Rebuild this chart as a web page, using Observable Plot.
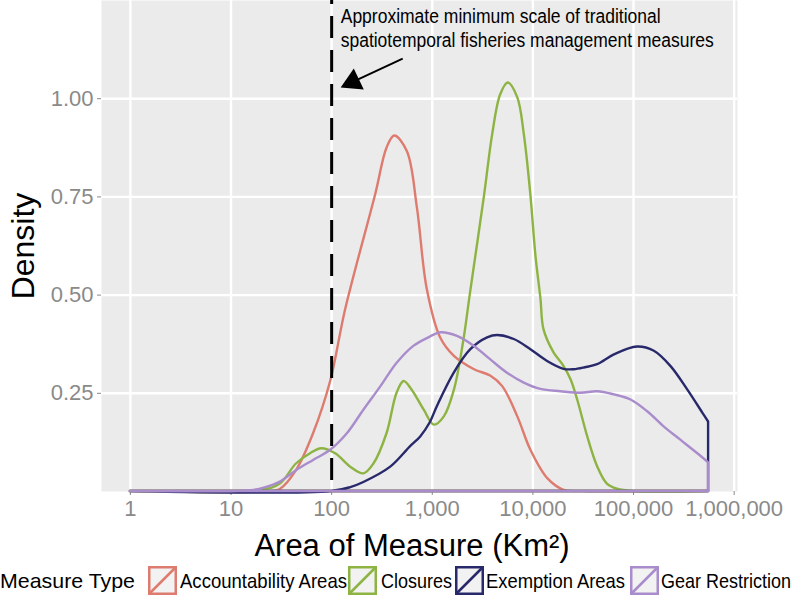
<!DOCTYPE html>
<html><head><meta charset="utf-8">
<script src="https://cdn.jsdelivr.net/npm/d3@7"></script>
<script src="https://cdn.jsdelivr.net/npm/@observablehq/plot@0.6"></script>
<style>
body{margin:0;background:#fff;font-family:"Liberation Sans",Arial,Helvetica,sans-serif;}
#wrap{position:relative;width:793px;height:595px;overflow:hidden;}
#wrap svg{overflow:visible;display:block;}
</style></head><body><div id="wrap"></div>
<script>
// ---- data ----
const categories = ["Accountability Areas", "Closures", "Exemption Areas", "Gear Restriction"];
const colors = ["#DE7B6F", "#8DB443", "#28296B", "#A98CCB"];

// x positions are log10(area, km²), y values are densities
const accLog = [0, 1.4, 1.49, 1.65, 1.82, 1.99, 2.14, 2.44, 2.55, 2.627, 2.753, 2.853, 2.95, 3.085, 3.22, 3.42, 3.58, 3.70, 3.85, 3.98, 4.15, 4.31, 4.5, 5.746];
const accDensity = [0, 0, 0.005, 0.053, 0.147, 0.28, 0.464, 0.758, 0.874, 0.905, 0.865, 0.72, 0.515, 0.39, 0.344, 0.31, 0.294, 0.267, 0.19, 0.105, 0.032, 0.003, 0, 0];

const cloLog = [0, 1.3, 1.49, 1.65, 1.79, 1.9, 2.04, 2.19, 2.32, 2.42, 2.55, 2.65, 2.72, 2.80, 2.92, 3.02, 3.12, 3.22, 3.31, 3.38, 3.52, 3.60, 3.68, 3.755, 3.85, 3.915, 3.98, 4.03, 4.08, 4.11, 4.21, 4.31, 4.38, 4.445, 4.545, 4.645, 4.74, 4.84, 5.0, 5.746];
const cloDensity = [0, 0.003, 0.019, 0.07, 0.096, 0.109, 0.096, 0.062, 0.045, 0.07, 0.147, 0.25, 0.28, 0.258, 0.207, 0.169, 0.19, 0.258, 0.378, 0.505, 0.754, 0.908, 1.01, 1.04, 1.002, 0.908, 0.754, 0.6, 0.49, 0.412, 0.353, 0.318, 0.284, 0.233, 0.139, 0.062, 0.019, 0.006, 0, 0];

const exeLog = [0, 2.0, 2.19, 2.32, 2.587, 2.78, 2.885, 2.98, 3.05, 3.217, 3.383, 3.55, 3.65, 3.815, 3.98, 4.146, 4.31, 4.41, 4.52, 4.643, 4.81, 5.04, 5.207, 5.373, 5.54, 5.69, 5.746];
const exeDensity = [0, 0, 0.01, 0.023, 0.062, 0.113, 0.139, 0.175, 0.216, 0.301, 0.361, 0.391, 0.397, 0.387, 0.361, 0.331, 0.311, 0.31, 0.315, 0.323, 0.348, 0.368, 0.357, 0.318, 0.258, 0.199, 0.177];

const gearLog = [0, 1.2, 1.32, 1.49, 1.65, 1.82, 1.99, 2.156, 2.32, 2.49, 2.653, 2.82, 2.98, 3.085, 3.25, 3.416, 3.582, 3.748, 3.914, 4.08, 4.279, 4.478, 4.643, 4.81, 4.975, 5.141, 5.307, 5.473, 5.639, 5.746];
const gearDensity = [0, 0.002, 0.008, 0.024, 0.053, 0.079, 0.105, 0.147, 0.207, 0.267, 0.327, 0.37, 0.393, 0.404, 0.395, 0.37, 0.335, 0.301, 0.276, 0.26, 0.254, 0.25, 0.254, 0.246, 0.233, 0.203, 0.164, 0.13, 0.096, 0.073];

const xTicks = [1, 10, 100, 1000, 10000, 100000, 1000000];
const xTickLabels = ["1", "10", "100", "1,000", "10,000", "100,000", "1,000,000"];
const yTicks = [0.25, 0.5, 0.75, 1.0];
const yTickLabels = ["0.25", "0.50", "0.75", "1.00"];

const vlineArea = [100];
const annoText = ["Approximate minimum scale of traditional", "spatiotemporal fisheries management measures"];
const annoArea = [123, 123];
const annoY = [1.193, 1.132];
const arrowFrom = {area: 508, y: 1.102};
const arrowTo = {area: 162, y: 1.043};

const xTitle = "Area of Measure (Km²)";
const yTitle = "Density";
const legendTitle = "Measure Type";

// ---- build table ----
const seriesLogs = [accLog, cloLog, exeLog, gearLog];
const seriesDens = [accDensity, cloDensity, exeDensity, gearDensity];
const rows = [];
categories.forEach((c, k) => seriesLogs[k].forEach((l, i) => rows.push({type: c, area: Math.pow(10, l), density: seriesDens[k][i], base: 0})));
const annoRows = annoText.map((t, i) => ({text: t, area: annoArea[i], y: annoY[i]}));

const grey = "#8a8a8a";
const font = '"Liberation Sans", Arial, Helvetica, sans-serif';
const plot = Plot.plot({
  width: 793, height: 595,
  marginTop: 0, marginLeft: 101, marginRight: 56, marginBottom: 104,
  style: {fontFamily: font, fontSize: "22px", background: "transparent", overflow: "visible"},
  x: {type: "log", domain: [Math.pow(10, -0.2873), Math.pow(10, 6.0333)]},
  y: {domain: [0, 1.25]},
  color: {domain: categories, range: colors},
  marks: [
    Plot.frame({fill: "#EBEBEB", stroke: "none"}),
    Plot.gridX(xTicks, {stroke: "white", strokeOpacity: 1, strokeWidth: 2.4}),
    Plot.gridY(yTicks, {stroke: "white", strokeOpacity: 1, strokeWidth: 2.4}),
    Plot.axisX(xTicks, {tickFormat: d => xTickLabels[xTicks.indexOf(d)], color: grey, tickSize: 4, tickPadding: 5, label: null, fontSize: 22}),
    Plot.axisY(yTicks, {tickFormat: d => yTickLabels[yTicks.indexOf(d)], color: grey, tickSize: 4, tickPadding: 4, label: null, fontSize: 22}),
    Plot.areaY(rows, {x: "area", y1: "base", y2: "density", z: "type", stroke: "type", fill: "none", strokeWidth: 2.4, curve: "catmull-rom"}),
    Plot.ruleX(vlineArea, {stroke: "black", strokeWidth: 3, strokeDasharray: "22,12", strokeDashoffset: 18}),
    Plot.link([0], {x1: () => arrowFrom.area, y1: () => arrowFrom.y, x2: () => arrowTo.area, y2: () => arrowTo.y, stroke: "black", strokeWidth: 2}),
    Plot.dot([0], {x: () => arrowTo.area, y: () => arrowTo.y, symbol: "triangle", r: 8.6, fill: "black", stroke: "none", rotate: 244.5}),
    Plot.text(annoRows, {x: "area", y: "y", text: "text", textAnchor: "start", lineAnchor: "bottom", fontSize: 20, fill: "black"}),
    Plot.text([yTitle], {frameAnchor: "left", textAnchor: "middle", rotate: -90, dx: -78, fontSize: 32, fill: "black"}),
    Plot.text([xTitle], {frameAnchor: "bottom", textAnchor: "middle", lineAnchor: "bottom", dy: 64, dx: -7.5, fontSize: 31, fill: "black"})
  ]
});

// narrow-looking annotation text
const annoWidths = [320, 373];
d3.select(plot).selectAll("text").each(function() {
  const k = annoText.indexOf(this.textContent);
  if (k >= 0) { this.setAttribute("textLength", annoWidths[k]); this.setAttribute("lengthAdjust", "spacingAndGlyphs"); }
});

// ---- legend (drawn below the panel) ----
const svg = d3.select(plot);
const lg = svg.append("g").attr("font-family", font).attr("text-anchor", "start");
lg.append("text").attr("x", 0).attr("y", 588).attr("font-size", 21).attr("fill", "black").attr("text-anchor", "start")
  .attr("textLength", 135).attr("lengthAdjust", "spacingAndGlyphs").text(legendTitle);
const keyX = [148, 348, 455, 630];
const labX = [180, 381, 486, 661];
const labW = [167, 71, 139, 130];
categories.forEach((c, i) => {
  lg.append("rect").attr("x", keyX[i] + 1.25).attr("y", 567.25).attr("width", 26.5).attr("height", 26.5)
    .attr("fill", "#F2F2F2").attr("stroke", colors[i]).attr("stroke-width", 2.5);
  lg.append("line").attr("x1", keyX[i] + 2).attr("y1", 593).attr("x2", keyX[i] + 27).attr("y2", 568)
    .attr("stroke", colors[i]).attr("stroke-width", 2.5);
  lg.append("text").attr("x", labX[i]).attr("y", 588).attr("font-size", 21).attr("fill", "black").attr("text-anchor", "start")
    .attr("textLength", labW[i]).attr("lengthAdjust", "spacingAndGlyphs").text(c);
});

document.getElementById("wrap").appendChild(plot);
</script></body></html>
